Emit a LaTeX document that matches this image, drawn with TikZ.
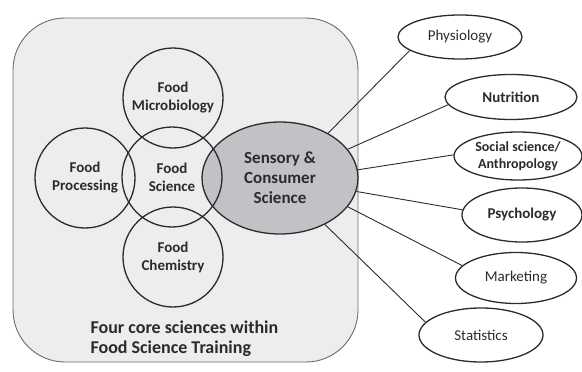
\documentclass[tikz,border=0pt]{standalone}
\usepackage{fontspec}
\setmainfont{Carlito}
\usetikzlibrary{shapes.geometric}
\definecolor{ink}{HTML}{2B2B2B}
\definecolor{panel}{HTML}{EDEDED}
\definecolor{core}{HTML}{C2C2C6}
\tikzset{
  area/.style={circle, draw=ink, line width=1.3pt, minimum size=100pt, inner sep=0pt,
    align=center, font=\fontsize{15}{18}\selectfont\bfseries, text=ink},
  field/.style={ellipse, draw=ink, line width=1.3pt, inner sep=0pt,
    align=center, font=\fontsize{15}{18}\selectfont, text=ink},
  link/.style={draw=ink, line width=0.9pt},
}
\begin{document}
\begin{tikzpicture}[x=1pt, y=-1pt]
\useasboundingbox (0,0) rectangle (582,372);
% panel holding the core sciences
\draw[draw=ink!70, fill=panel, line width=0.9pt, rounded corners=52pt] (13,18) rectangle (358,362);
\node[anchor=west, align=left, text=ink, font=\fontsize{18}{20}\selectfont\bfseries]
  (cap) at (87,339) {Four core sciences within\\Food Science Training};
% sensory & consumer science
\node[ellipse, fill=core, minimum width=156pt, minimum height=112pt, inner sep=0pt] (scbg) at (280,178) {};
% core sciences
\node[area] (micro) at (173,98) {Food\\Microbiology};
\node[area] (proc) at (85,178) {Food\\Processing};
\node[area] (fsci) at (172,177) {Food\\Science};
\node[area] (chem) at (173,257) {Food\\Chemistry};
\node[ellipse, draw=ink, line width=1.3pt, minimum width=156pt, minimum height=112pt, inner sep=0pt,
  align=center, text=ink, font=\fontsize{17}{20}\selectfont\bfseries] (sc) at (280,178)
  {Sensory \&\\Consumer\\Science};
% related disciplines
\node[field, minimum width=124pt, minimum height=44pt] (phys) at (460,37) {Physiology};
\node[field, minimum width=132pt, minimum height=45pt, font=\fontsize{15}{18}\selectfont\bfseries] (nutr) at (511,97) {Nutrition};
\node[field, minimum width=128pt, minimum height=48pt, font=\fontsize{14}{17}\selectfont\bfseries] (soc) at (518,156) {Social science/\\Anthropology};
\node[field, minimum width=120pt, minimum height=54pt, font=\fontsize{15}{18}\selectfont\bfseries] (psy) at (522,215) {Psychology};
\node[field, minimum width=121pt, minimum height=51pt] (mkt) at (516,278) {Marketing};
\node[field, minimum width=124pt, minimum height=54pt] (stat) at (481,335) {Statistics};
% connectors
\draw[link] (sc.43) -- (phys.195);
\draw[link] (sc.23) -- (nutr.187);
\draw[link] (sc.6) -- (soc.179);
\draw[link] (sc.-10) -- (psy.175);
\draw[link] (sc.-23) -- (mkt.167);
\draw[link] (sc.-46) -- (stat.167);
\end{tikzpicture}
\end{document}
